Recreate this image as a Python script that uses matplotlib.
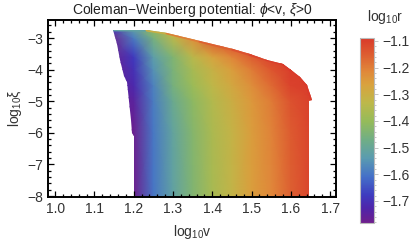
import numpy as np
import matplotlib
matplotlib.use('Agg')
import matplotlib.pyplot as plt
from matplotlib.colors import LinearSegmentedColormap, Normalize
from matplotlib.patches import Polygon
from matplotlib.collections import LineCollection
from matplotlib.ticker import MultipleLocator
import matplotlib.cm as cm

plt.rcParams['font.family'] = ['Liberation Sans', 'DejaVu Sans']
plt.rcParams['mathtext.fontset'] = 'custom'
plt.rcParams['mathtext.rm'] = 'Liberation Sans'
plt.rcParams['mathtext.it'] = 'Liberation Sans:italic'

# region boundary (log10 v, log10 xi)
left_v = [1.148, 1.157, 1.165, 1.176, 1.183, 1.188, 1.193, 1.197, 1.200, 1.200]
left_xi = [-2.74, -3.20, -3.70, -4.20, -4.40, -5.00, -5.60, -6.00, -6.10, -8.05]
top_v = [1.148, 1.234, 1.285, 1.369, 1.453, 1.496, 1.539, 1.580, 1.600,
         1.623, 1.640, 1.649, 1.654, 1.647, 1.647]
top_xi = [-2.74, -2.75, -2.84, -3.10, -3.36, -3.52, -3.68, -3.82, -4.02,
          -4.22, -4.50, -4.78, -4.96, -4.98, -8.05]
# log10 r right at the upper edge
top_logr = [-1.66, -1.38, -1.22, -1.17, -1.14, -1.12, -1.10, -1.09, -1.09,
            -1.09, -1.09, -1.09, -1.09, -1.09, -1.09]

# log10 r on a coarse node grid (rows: log10 xi, columns: log10 v)
grid_v = [1.14, 1.20, 1.25, 1.30, 1.35, 1.40, 1.45, 1.50, 1.55, 1.60, 1.67]
grid_xi = [-8.05, -6.0, -5.0, -4.5, -4.0, -3.6, -3.0, -2.70]
logr = [
    [-1.95, -1.780, -1.600, -1.520, -1.440, -1.370, -1.320, -1.255, -1.214, -1.155, -1.070],
    [-1.95, -1.775, -1.598, -1.510, -1.432, -1.365, -1.315, -1.252, -1.208, -1.148, -1.065],
    [-1.96, -1.750, -1.590, -1.490, -1.415, -1.350, -1.300, -1.245, -1.195, -1.130, -1.050],
    [-1.97, -1.720, -1.580, -1.460, -1.390, -1.330, -1.280, -1.225, -1.170, -1.105, -1.040],
    [-1.96, -1.700, -1.555, -1.450, -1.370, -1.310, -1.255, -1.195, -1.140, -1.095, -1.060],
    [-1.95, -1.680, -1.530, -1.440, -1.340, -1.270, -1.210, -1.150, -1.100, -1.090, -1.090],
    [-1.85, -1.590, -1.460, -1.340, -1.230, -1.130, -1.090, -1.090, -1.090, -1.090, -1.090],
    [-1.68, -1.520, -1.400, -1.290, -1.180, -1.090, -1.090, -1.090, -1.090, -1.090, -1.090],
]

cbar_ticks = [-1.7, -1.6, -1.5, -1.4, -1.3, -1.2, -1.1]
rmin, rmax = -1.783, -1.089

rainbow = LinearSegmentedColormap.from_list('mma_rainbow', [
    (0.00, '#6E1F8C'), (0.08, '#4E25AA'), (0.15, '#3E3BBF'),
    (0.25, '#4470C8'), (0.35, '#5A9BB0'), (0.45, '#70AE85'),
    (0.55, '#95BB5A'), (0.65, '#BDB84A'), (0.75, '#D9A23E'),
    (0.82, '#E0883A'), (0.92, '#DD5A30'), (1.00, '#D93A2B')])
norm = Normalize(rmin, rmax)

fig = plt.figure(figsize=(4.18, 2.48), dpi=100)
ax = fig.add_axes([48 / 418, 1 - 197 / 248, 288 / 418, 177 / 248])

V, XI = np.meshgrid(grid_v, grid_xi)
C = np.clip(np.array(logr), rmin, rmax)
mesh = ax.pcolormesh(V, XI, C, shading='gouraud', cmap=rainbow, norm=norm)

outline = list(zip(left_v, left_xi))[::-1] + list(zip(top_v, top_xi))
clip = Polygon(outline, closed=True, transform=ax.transData,
               facecolor='none', edgecolor='none')
ax.add_patch(clip)
mesh.set_clip_path(clip)

# thin bright rim along the upper edge
pts = np.column_stack([top_v, top_xi])
segs = np.stack([pts[:-1], pts[1:]], axis=1)[:-2]
rim_vals = (np.array(top_logr[:-1]) + np.array(top_logr[1:]))[:-2] / 2
rim = LineCollection(segs, cmap=rainbow, norm=norm, linewidths=2.2,
                     capstyle='round')
rim.set_array(rim_vals)
ax.add_collection(rim)
rim.set_clip_path(clip)

ax.set_xlim(0.982, 1.715)
ax.set_ylim(-8.03, -2.43)
ax.xaxis.set_major_locator(MultipleLocator(0.1))
ax.xaxis.set_minor_locator(MultipleLocator(0.02))
ax.yaxis.set_major_locator(MultipleLocator(1))
ax.yaxis.set_minor_locator(MultipleLocator(0.2))
ax.xaxis.set_major_formatter(lambda x, p: f'{x:.1f}')
ax.yaxis.set_major_formatter(lambda y, p: f'\u2212{abs(y):.0f}')
ax.tick_params(which='both', direction='in', top=True, right=True,
               labelsize=10, labelcolor='#333333', width=0.9)
ax.tick_params(which='major', length=4)
ax.tick_params(which='minor', length=2)
for s in ax.spines.values():
    s.set_linewidth(1.4)

ax.set_title('Coleman\u2212Weinberg potential: $\\it{\u03d5}$<v, $\\it{\u03be}$>0',
             fontsize=10, color='#222222', pad=4)
ax.set_xlabel('log$_{10}$v', fontsize=10, color='#333333', labelpad=5)
ax.set_ylabel('log$_{10}$\u03be', fontsize=10, color='#333333', labelpad=2)

cax = fig.add_axes([360 / 418, 1 - 223 / 248, 14 / 418, 185 / 248])
cb = fig.colorbar(cm.ScalarMappable(norm=norm, cmap=rainbow), cax=cax)
cb.set_ticks(cbar_ticks)
cb.ax.yaxis.set_minor_locator(MultipleLocator(0.02))
cb.ax.yaxis.set_major_formatter(lambda y, p: f'\u2212{abs(y):.1f}')
cb.outline.set_edgecolor('#bbbbbb')
cb.outline.set_linewidth(0.8)
cb.ax.tick_params(which='both', color='#bbbbbb', labelsize=10,
                  labelcolor='#333333', width=0.6)
cb.ax.tick_params(which='major', length=3, pad=3)
cb.ax.tick_params(which='minor', length=1.5)
fig.text(385 / 418, 1 - 17 / 248, 'log$_{10}$r', fontsize=10, color='#333333',
         ha='center', va='center')

fig.savefig('out.png', dpi=100)
